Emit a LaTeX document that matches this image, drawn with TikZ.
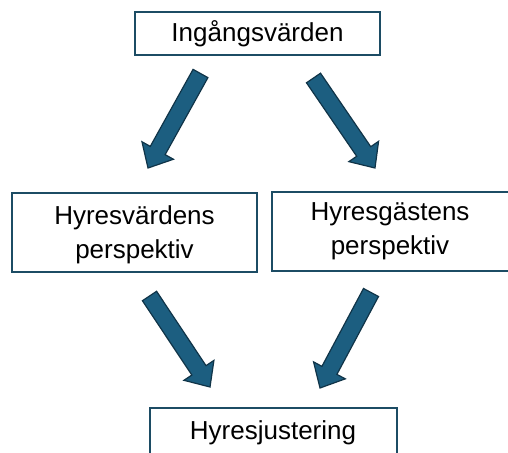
\documentclass[tikz,border=0pt]{standalone}
\usepackage{fontspec}
\setmainfont{Liberation Sans}
\usetikzlibrary{calc}
\definecolor{boxline}{RGB}{28,76,100}
\definecolor{arrfill}{RGB}{28,94,128}
\definecolor{arrline}{RGB}{16,52,72}
\tikzset{
  box/.style={draw=boxline, line width=2.6pt, fill=white},
  lbl/.style={inner sep=0pt, align=center, font=\fontsize{26}{34}\selectfont},
  barrow/.style={draw=arrline, fill=arrfill, line width=1.2pt, line join=miter}
}
\newcommand\blockarrow[2]{%
  \draw[barrow] ($(#1)!8.5pt!90:(#2)$)
    -- ($($(#2)!20pt!(#1)$)!8.5pt!-90:(#1)$)
    -- ($($(#2)!20pt!(#1)$)!18pt!-90:(#1)$)
    -- (#2)
    -- ($($(#2)!20pt!(#1)$)!18pt!90:(#1)$)
    -- ($($(#2)!20pt!(#1)$)!8.5pt!90:(#1)$)
    -- ($(#1)!8.5pt!-90:(#2)$) -- cycle;}
\begin{document}
\begin{tikzpicture}[x=1pt,y=-1pt]
\useasboundingbox (0,0) rectangle (508,452);
\begin{scope}
\clip (0,0) rectangle (508,452);
% boxes
\draw[box] (135,12) rectangle (380,55);
\node[lbl] (top) at (257.5,33.5) {Ingångsvärden};
\draw[box] (12,193) rectangle (257,272);
\node[lbl] (left) at (134.5,234.5) {Hyresvärdens\\perspektiv};
\draw[box] (272,192) rectangle (520,271);
\node[lbl] (right) at (390,231.5) {Hyresgästens\\perspektiv};
\draw[box] (150,408) rectangle (397,470);
\node[lbl] (bot) at (273,433) {Hyresjustering};
% arrows
\coordinate (a1t) at (200.5,73.5); \coordinate (a1h) at (148,168);
\coordinate (a2t) at (313.5,78);   \coordinate (a2h) at (375,168);
\coordinate (a3t) at (149.5,296);  \coordinate (a3h) at (210,387);
\coordinate (a4t) at (371,292.5);  \coordinate (a4h) at (320,388);
\blockarrow{a1t}{a1h}
\blockarrow{a2t}{a2h}
\blockarrow{a3t}{a3h}
\blockarrow{a4t}{a4h}
\end{scope}
\end{tikzpicture}
\end{document}
